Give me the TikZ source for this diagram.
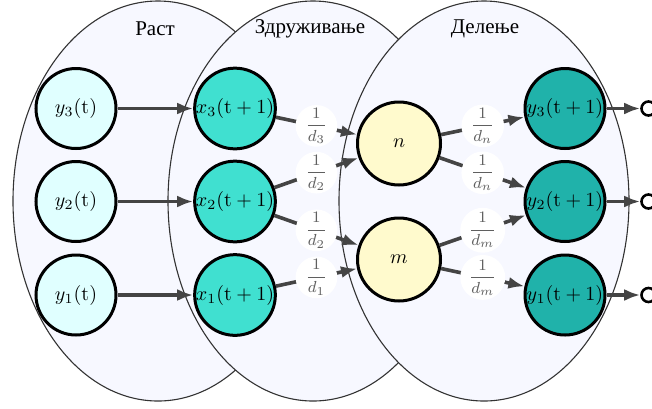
\documentclass[tikz,border=0pt]{standalone}
\usepackage{fontspec}
\newfontfamily\cyr{Liberation Serif}
\usetikzlibrary{arrows.meta}
\definecolor{ellfill}{RGB}{247,248,255}
\definecolor{ycol}{RGB}{224,255,255}
\definecolor{xcol}{RGB}{64,224,208}
\definecolor{mcol}{RGB}{255,250,205}
\definecolor{ocol}{RGB}{32,178,170}
\definecolor{arrcol}{RGB}{68,68,68}
\definecolor{labcol}{RGB}{95,95,95}
\newcommand{\dfr}[2]{{\displaystyle\frac{#1}{#2}}}
\begin{document}
\begin{tikzpicture}[x=0.5pt,y=-0.5pt,
  stage/.style={draw=black!80, line width=0.55pt, fill=ellfill},
  unit/.style={circle, draw=black, line width=1.5pt, minimum size=40pt, inner sep=0pt},
  ynode/.style={unit, fill=ycol},
  xnode/.style={unit, fill=xcol},
  mnode/.style={unit, fill=mcol, minimum size=41.5pt},
  onode/.style={unit, fill=ocol},
  outc/.style={circle, draw=black, line width=1.3pt, fill=white, minimum size=7pt, inner sep=0pt},
  arr/.style={draw=arrcol, line width=1.8pt, -{Latex[length=8pt,width=6pt]}},
  lab/.style={circle, fill=white, text=labcol, inner sep=0pt, minimum size=17.5pt, font=\footnotesize},
  ttl/.style={font=\cyr\fontsize{10.5}{12}\selectfont}
]
\useasboundingbox (0,0) rectangle (652,408);
\path[stage] (158,201) ellipse [x radius=72.5pt, y radius=100pt];
\path[stage] (313,201) ellipse [x radius=72.5pt, y radius=100pt];
\path[stage] (484,201) ellipse [x radius=72.5pt, y radius=100pt];
\node[ttl] (t1) at (155,29) {Раст};
\node[ttl] (t2) at (310,29) {Здруживање};
\node[ttl] (t3) at (485,29) {Делење};

\node[ynode] (y3) at (76,108.5) {$y_3(\mathrm{t})$};
\node[ynode] (y2) at (76,201.5) {$y_2(\mathrm{t})$};
\node[ynode] (y1) at (76,295) {$y_1(\mathrm{t})$};
\node[xnode] (x3) at (235,108.5) {$x_3(\mathrm{t}+1)$};
\node[xnode] (x2) at (235,201.5) {$x_2(\mathrm{t}+1)$};
\node[xnode] (x1) at (235,295) {$x_1(\mathrm{t}+1)$};
\node[mnode] (n) at (399,143.5) {$n$};
\node[mnode] (m) at (399,259.5) {$m$};
\node[onode] (o3) at (565,108.5) {$y_3(\mathrm{t}+1)$};
\node[onode] (o2) at (565,201.5) {$y_2(\mathrm{t}+1)$};
\node[onode] (o1) at (565,295) {$y_1(\mathrm{t}+1)$};
\node[outc] (c3) at (648.5,108.5) {};
\node[outc] (c2) at (648.5,201.5) {};
\node[outc] (c1) at (648.5,295) {};

\draw[arr] (y3) -- (x3);
\draw[arr] (y2) -- (x2);
\draw[arr] (y1) -- (x1);
\draw[arr] (x3) -- node[lab] {$\dfr{1}{d_3}$} (n);
\draw[arr] (x2) -- node[lab] {$\dfr{1}{d_2}$} (n);
\draw[arr] (x2) -- node[lab] {$\dfr{1}{d_2}$} (m);
\draw[arr] (x1) -- node[lab] {$\dfr{1}{d_1}$} (m);
\draw[arr] (n) -- node[lab] {$\dfr{1}{d_n}$} (o3);
\draw[arr] (n) -- node[lab] {$\dfr{1}{d_n}$} (o2);
\draw[arr] (m) -- node[lab] {$\dfr{1}{d_m}$} (o2);
\draw[arr] (m) -- node[lab] {$\dfr{1}{d_m}$} (o1);
\draw[arr] (o3) -- (c3);
\draw[arr] (o2) -- (c2);
\draw[arr] (o1) -- (c1);
\end{tikzpicture}
\end{document}
